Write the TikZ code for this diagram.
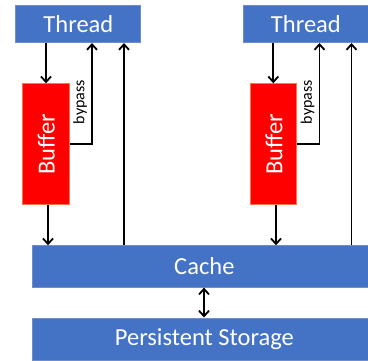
\documentclass[tikz,border=0pt]{standalone}
\usepackage{fontspec}
\setmainfont{Carlito}
\usetikzlibrary{arrows.meta}
\definecolor{boxblue}{HTML}{4472C4}
\definecolor{boxedge}{HTML}{6E8FCB}
\definecolor{bufred}{HTML}{FF0000}
\definecolor{bufedge}{HTML}{F4774A}
\tikzset{
  bluebox/.style={draw=boxedge, line width=0.8pt, fill=boxblue, text=white, inner sep=0pt, font=\fontsize{24.5}{28}\selectfont},
  bufbox/.style={draw=bufedge, line width=0.8pt, fill=bufred, text=white, inner sep=0pt},
  conn/.style={line width=1.8pt, -{Straight Barb[length=5.5pt,width=10pt,line width=1.8pt]}},
  dconn/.style={line width=1.8pt, {Straight Barb[length=5.5pt,width=10pt,line width=1.8pt]}-{Straight Barb[length=5.5pt,width=10pt,line width=1.8pt]}},
  bytext/.style={font=\fontsize{16}{18}\selectfont, rotate=90, inner sep=0pt}
}
\begin{document}
\begin{tikzpicture}[x=1pt,y=-1pt]
\useasboundingbox (0,0) rectangle (368,360);
% threads
\node[bluebox, minimum width=125pt, minimum height=37.5pt, anchor=north west] (t1) at (15.5,4.7) {Thread};
\node[bluebox, minimum width=125pt, minimum height=37.5pt, anchor=north west] (t2) at (243,4.7) {Thread};
% buffers
\node[bufbox, minimum width=46.5pt, minimum height=121pt, anchor=north west] (b1) at (22.5,83.3) {};
\node[bufbox, minimum width=46pt, minimum height=121pt, anchor=north west] (b2) at (250.5,83.3) {};
\node[rotate=90, text=white, font=\fontsize{24.5}{28}\selectfont, inner sep=0pt] (bl1) at (b1.center) {Buffer};
\node[rotate=90, text=white, font=\fontsize{24.5}{28}\selectfont, inner sep=0pt] (bl2) at (b2.center) {Buffer};
% cache and storage
\node[bluebox, minimum width=344.5pt, minimum height=41.5pt, anchor=north west] (cache) at (31.7,245.3) {Cache};
\node[bluebox, minimum width=344.5pt, minimum height=42pt, anchor=north west] (stor) at (31.7,317.5) {Persistent Storage};
% coordinates
\coordinate (bp1) at (92,144);
\coordinate (bp2) at (319.5,144);
% left connectors
\draw[conn] (t1.south -| 46,0) -- (b1.north -| 46,0);
\draw[conn] (b1.east |- bp1) -- (bp1) -- (t1.south -| bp1);
\draw[conn] (cache.north -| 124,0) -- (t1.south -| 124,0);
\draw[conn] (b1.south -| 48,0) -- (cache.north -| 48,0);
% right connectors
\draw[conn] (t2.south -| 273.3,0) -- (b2.north -| 273.3,0);
\draw[conn] (b2.east |- bp2) -- (bp2) -- (t2.south -| bp2);
\draw[conn] (cache.north -| 351.5,0) -- (t2.south -| 351.5,0);
\draw[conn] (b2.south -| 276,0) -- (cache.north -| 276,0);
% bypass labels
\node[bytext] (by1) at (80,102) {bypass};
\node[bytext] (by2) at (307.5,102) {bypass};
% cache <-> storage
\draw[dconn] (cache.south -| 204,0) -- (stor.north -| 204,0);
\end{tikzpicture}
\end{document}
